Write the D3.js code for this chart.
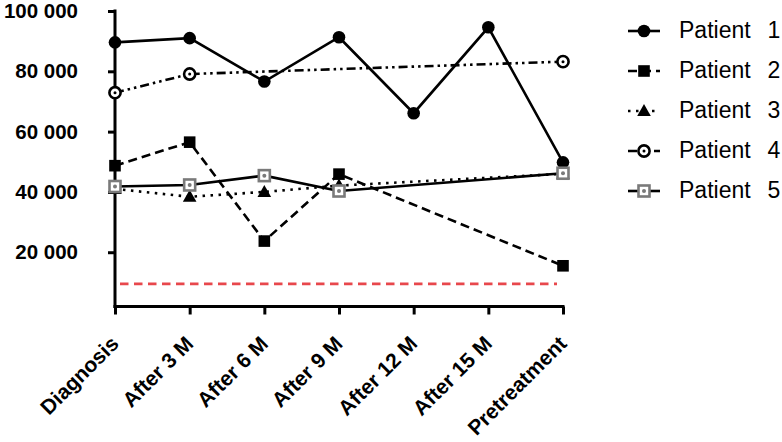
<!DOCTYPE html>
<html><head><meta charset="utf-8">
<script src="https://cdn.jsdelivr.net/npm/d3@7"></script>
<style>body{margin:0;background:#fff}svg{display:block}</style>
</head><body>
<svg id="c" width="782" height="442"></svg>
<script>
const categories = ["Diagnosis","After 3 M","After 6 M","After 9 M","After 12 M","After 15 M","Pretreatment"];
const patient1 = [89600, 91000, 76600, 91300, 66100, 94600, 49800];
const patient2 = [48700, 56500, 23700, 45900, null, null, 15500];
const patient3 = [41000, 38400, 40000, 42100, null, null, 46000];
const patient4 = [72900, 79100, null, null, null, null, 83200];
const patient5 = [41800, 42300, 45400, 40300, null, null, 46200];
const seriesNames = ["Patient  1","Patient  2","Patient  3","Patient  4","Patient  5"];
const yTicks = [20000, 40000, 60000, 80000, 100000];
const thresholdValue = 9500;

const series = [
  {name: seriesNames[0], values: patient1, dash: null, marker: "circle"},
  {name: seriesNames[1], values: patient2, dash: "9,5", marker: "square"},
  {name: seriesNames[2], values: patient3, dash: "2.5,5.5", marker: "triangle"},
  {name: seriesNames[3], values: patient4, dash: "9,4,2.5,4,2.5,4", marker: "opencircle"},
  {name: seriesNames[4], values: patient5, dash: null, marker: "opensquare"}
];

const svg = d3.select("#c");
const x = d3.scalePoint().domain(categories).range([115, 563]);
const y = d3.scaleLinear().domain([2000, 100000]).range([306.5, 11]);
const fmt = v => d3.format(",")(v).replace(/,/g, " ");

// threshold line
svg.append("line")
  .attr("x1", x(categories[0]) + 5).attr("x2", x(categories[6]) - 6)
  .attr("y1", y(thresholdValue)).attr("y2", y(thresholdValue))
  .attr("stroke", "#e8474c").attr("stroke-width", 2.6).attr("stroke-dasharray", "8.5,5.5");

// axes
const yAxis = svg.append("g").attr("transform", "translate(115,0)")
  .call(d3.axisLeft(y).tickValues(yTicks).tickSize(7).tickSizeOuter(0).tickPadding(30).tickFormat(fmt));
const xAxis = svg.append("g").attr("transform", "translate(0,306.5)")
  .call(d3.axisBottom(x).tickSize(8).tickSizeOuter(0));
[yAxis, xAxis].forEach(g => {
  g.select(".domain").attr("stroke", "#000").attr("stroke-width", 3);
  g.selectAll(".tick line").attr("stroke", "#000").attr("stroke-width", 3);
});
xAxis.select(".domain").attr("d", "M113.5,0H564.5");
yAxis.select(".domain").attr("d", "M0,9.5V308");
yAxis.selectAll(".tick text")
  .attr("font-family", "Liberation Sans, Arial, sans-serif").attr("font-weight", "bold")
  .attr("font-size", "20.5px").attr("fill", "#000");
xAxis.selectAll(".tick text")
  .attr("font-family", "Liberation Sans, Arial, sans-serif").attr("font-weight", "bold")
  .attr("font-size", "21px").attr("fill", "#000")
  .attr("text-anchor", "end").attr("dy", null).attr("y", null)
  .attr("transform", "translate(4.5,38.5) rotate(-45)");

// lines
const line = d3.line().x(d => x(d.c)).y(d => y(d.v));
function pts(s){ return s.values.map((v,i)=>({c: categories[i], v})).filter(d => d.v != null); }
series.forEach(s => {
  svg.append("path").datum(pts(s)).attr("d", line)
    .attr("fill", "none").attr("stroke", "#000").attr("stroke-width", 2.6)
    .attr("stroke-dasharray", s.dash);
});

function drawMarker(g, type, cx, cy) {
  if (type === "circle") {
    g.append("circle").attr("cx", cx).attr("cy", cy).attr("r", 6.3).attr("fill", "#000");
  } else if (type === "square") {
    g.append("rect").attr("x", cx-5.8).attr("y", cy-5.8).attr("width", 11.6).attr("height", 11.6).attr("fill", "#000");
  } else if (type === "triangle") {
    g.append("path").attr("d", `M${cx},${cy-7}L${cx+6.8},${cy+5}L${cx-6.8},${cy+5}Z`).attr("fill", "#000");
  } else if (type === "opencircle") {
    g.append("circle").attr("cx", cx).attr("cy", cy).attr("r", 5.6).attr("fill", "#fff").attr("stroke", "#000").attr("stroke-width", 2.6);
    g.append("circle").attr("cx", cx).attr("cy", cy).attr("r", 1.5).attr("fill", "#000");
  } else if (type === "opensquare") {
    g.append("rect").attr("x", cx-5.5).attr("y", cy-5.5).attr("width", 11).attr("height", 11).attr("fill", "#fff").attr("stroke", "#7a7a7a").attr("stroke-width", 2.6);
    g.append("circle").attr("cx", cx).attr("cy", cy).attr("r", 2).attr("fill", "#7a7a7a");
  }
}

// markers
series.forEach(s => {
  const g = svg.append("g");
  pts(s).forEach(d => drawMarker(g, s.marker, x(d.c), y(d.v)));
});

// legend
const legendY = d3.scalePoint().domain(seriesNames).range([31, 191]);
series.forEach(s => {
  const ly = legendY(s.name);
  const g = svg.append("g");
  g.append("line").attr("x1", 628).attr("x2", 660).attr("y1", ly).attr("y2", ly)
    .attr("stroke", "#000").attr("stroke-width", 2.6).attr("stroke-dasharray", s.dash);
  drawMarker(g, s.marker, 644, ly);
  g.append("text").attr("x", 679).attr("y", ly).attr("dy", "0.3em")
    .attr("font-family", "Liberation Sans, Arial, sans-serif").attr("font-size", "23px")
    .attr("word-spacing", "2px")
    .style("white-space", "pre").attr("fill", "#000").text(s.name);
});
</script>
</body></html>
